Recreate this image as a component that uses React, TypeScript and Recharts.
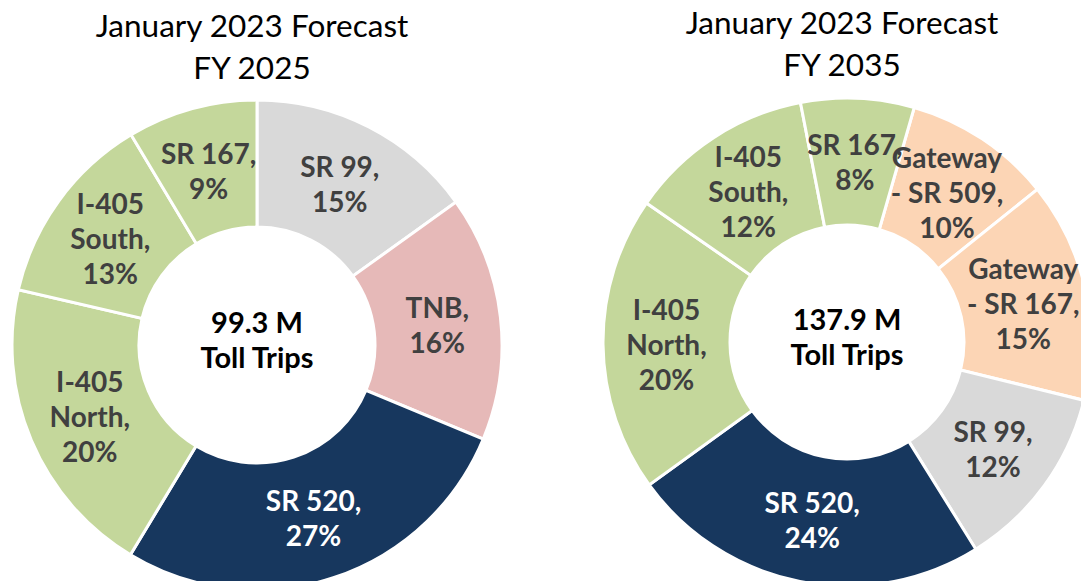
import { PieChart, Pie, Cell } from "recharts";

// FY 2025 split (percent of toll trips), clockwise from 12 o'clock
const names2025 = ["SR 99", "TNB", "SR 520", "I-405 North", "I-405 South", "SR 167"];
const values2025 = [15.1, 16.2, 27.4, 20.0, 12.8, 8.6];
const lines2025 = [
  ["SR 99,"],
  ["TNB,"],
  ["SR 520,"],
  ["I-405", "North,"],
  ["I-405", "South,"],
  ["SR 167,"],
];
const colors2025 = ["#D9D9D9", "#E6B9B8", "#17375E", "#C4D79B", "#C4D79B", "#C4D79B"];

// FY 2035 split
const names2035 = [
  "Gateway - SR 509",
  "Gateway - SR 167",
  "SR 99",
  "SR 520",
  "I-405 North",
  "I-405 South",
  "SR 167",
];
const values2035 = [9.8, 14.6, 12.3, 23.9, 19.6, 12.3, 7.5];
const lines2035 = [
  ["Gateway", "- SR 509,"],
  ["Gateway", "- SR 167,"],
  ["SR 99,"],
  ["SR 520,"],
  ["I-405", "North,"],
  ["I-405", "South,"],
  ["SR 167,"],
];
const colors2035 = ["#FCD5B5", "#FCD5B5", "#D9D9D9", "#17375E", "#C4D79B", "#C4D79B", "#C4D79B"];

const totals = ["99.3 M", "137.9 M"];
const titles = ["FY 2025", "FY 2035"];

const FONT = "Lato, 'Open Sans', sans-serif";
const RAD = Math.PI / 180;
const LINE_H = 35;

const data2025 = names2025.map((name, i) => ({ name, value: values2025[i] }));
const data2035 = names2035.map((name, i) => ({ name, value: values2035[i] }));

function makeLabel(lines: string[][], colors: string[]) {
  return (props: any) => {
    const { cx, cy, midAngle, innerRadius, outerRadius, index, value } = props;
    const r = (innerRadius + outerRadius) / 2;
    const x = cx + r * Math.cos(-midAngle * RAD);
    const y = cy + r * Math.sin(-midAngle * RAD);
    const rows = [...lines[index], `${Math.round(value)}%`];
    const fill = colors[index] === "#17375E" ? "#FFFFFF" : "#404040";
    return (
      <text
        x={x}
        y={y}
        textAnchor="middle"
        fill={fill}
        fontFamily={FONT}
        fontWeight={700}
        fontSize={28}
      >
        {rows.map((t, i) => (
          <tspan
            key={i}
            x={x}
            y={y + (i - (rows.length - 1) / 2) * LINE_H}
            dominantBaseline="central"
          >
            {t}
          </tspan>
        ))}
      </text>
    );
  };
}

const centers = [
  { x: 257, y: 345 },
  { x: 847, y: 342 },
];

export default function App() {
  return (
    <div
      style={{
        position: "fixed",
        left: 0,
        top: 0,
        width: 1081,
        height: 581,
        background: "#fff",
        overflow: "hidden",
        fontFamily: FONT,
      }}
    >
      <PieChart width={1081} height={581} margin={{ top: 0, right: 0, bottom: 0, left: 0 }}>
        <Pie
          data={data2025}
          dataKey="value"
          cx={centers[0].x}
          cy={centers[0].y}
          innerRadius={118}
          outerRadius={245}
          startAngle={90}
          endAngle={-270}
          stroke="#FFFFFF"
          strokeWidth={3}
          label={makeLabel(lines2025, colors2025)}
          labelLine={false}
          isAnimationActive={false}
        >
          {data2025.map((d, i) => (
            <Cell key={d.name} fill={colors2025[i]} />
          ))}
        </Pie>
        <Pie
          data={data2035}
          dataKey="value"
          cx={centers[1].x}
          cy={centers[1].y}
          innerRadius={117}
          outerRadius={244}
          startAngle={74}
          endAngle={-286}
          stroke="#FFFFFF"
          strokeWidth={3}
          label={makeLabel(lines2035, colors2035)}
          labelLine={false}
          isAnimationActive={false}
        >
          {data2035.map((d, i) => (
            <Cell key={d.name} fill={colors2035[i]} />
          ))}
        </Pie>
      </PieChart>
      {centers.map((c, i) => (
        <div key={"t" + i}>
          <div
            style={{
              position: "absolute",
              left: c.x - 5 - 250,
              width: 500,
              top: i === 0 ? 4 : 1,
              textAlign: "center",
              fontSize: 31.5,
              lineHeight: "42px",
              color: "#000",
            }}
          >
            January 2023 Forecast
            <br />
            {titles[i]}
          </div>
          <div
            style={{
              position: "absolute",
              left: c.x - 100,
              width: 200,
              top: c.y - 41,
              textAlign: "center",
              fontSize: 29,
              fontWeight: 700,
              lineHeight: "35px",
              color: "#000",
            }}
          >
            {totals[i]}
            <br />
            Toll Trips
          </div>
        </div>
      ))}
    </div>
  );
}
